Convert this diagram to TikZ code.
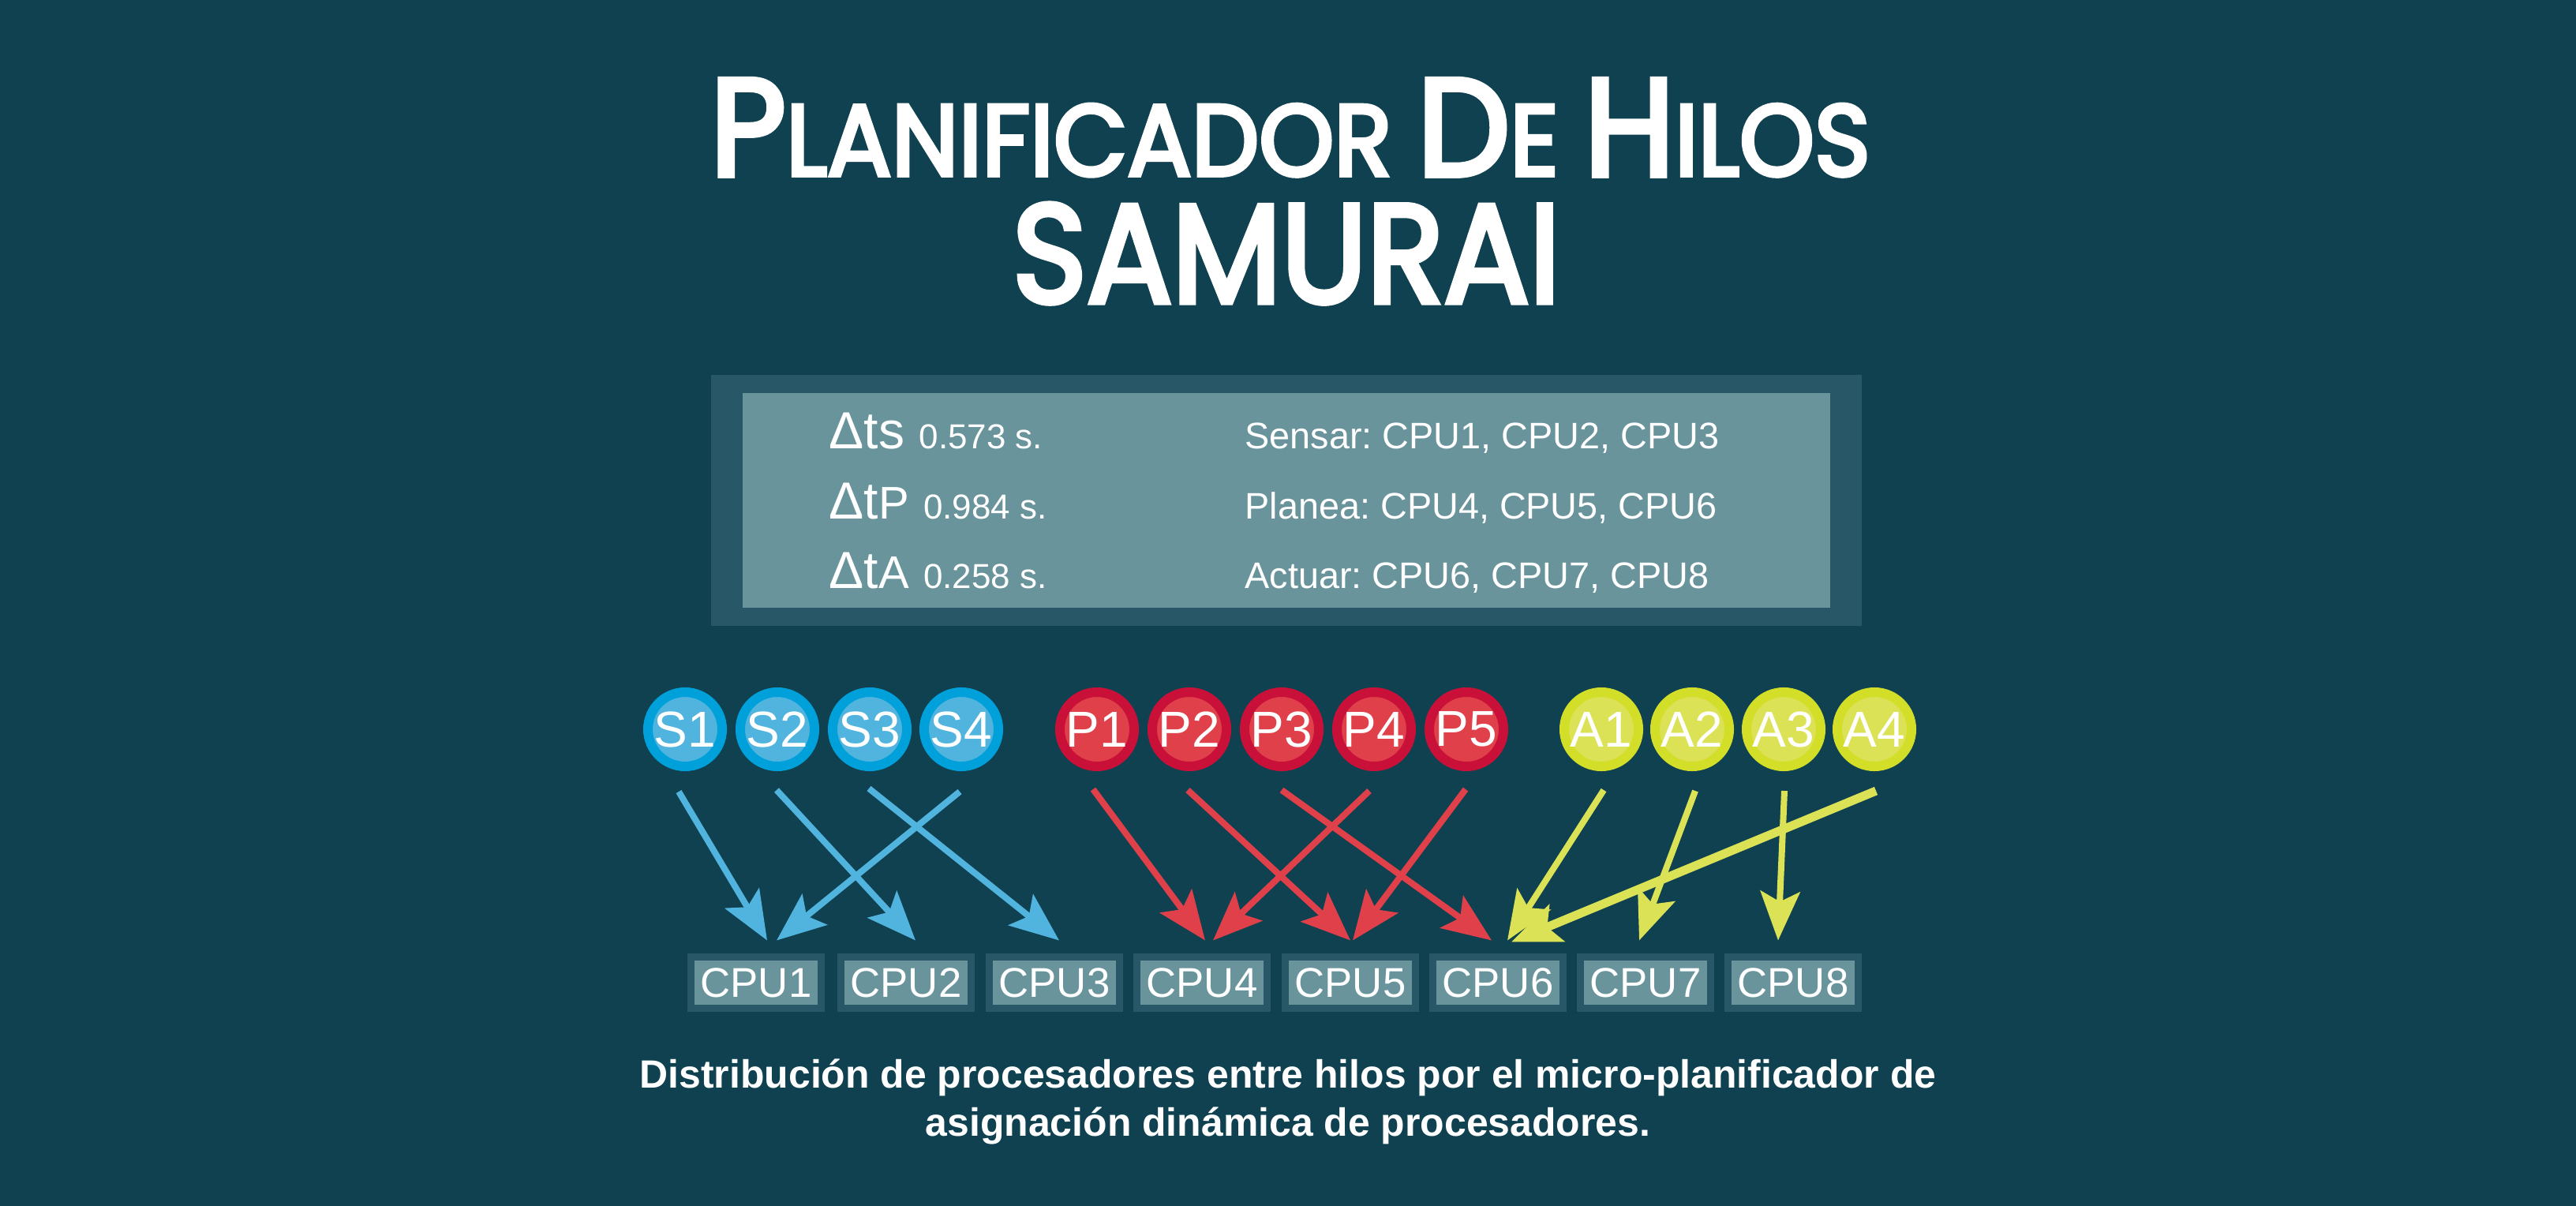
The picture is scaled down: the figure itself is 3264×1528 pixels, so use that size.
\documentclass[tikz,border=0pt]{standalone}
\usepackage{fontspec}
\setmainfont{Liberation Sans}
\newfontfamily\titulofont{Poppins}[FakeBold=4]
\usetikzlibrary{arrows.meta,calc}
\frenchspacing

% colores
\definecolor{fondo}{RGB}{15,65,80}
\definecolor{marco}{RGB}{40,88,104}
\definecolor{panel}{RGB}{106,148,156}
\definecolor{azulA}{RGB}{0,160,218}
\definecolor{azulB}{RGB}{80,180,222}
\definecolor{rojoA}{RGB}{200,16,56}
\definecolor{rojoB}{RGB}{224,64,74}
\definecolor{amaA}{RGB}{210,222,40}
\definecolor{amaB}{RGB}{220,226,86}

\newcommand{\grande}{\fontsize{50}{50}\selectfont}
\newcommand{\chica}{\fontsize{36.5}{40}\selectfont}
\newcommand{\deltat}{\fontsize{18.8}{20}\selectfont}
\newcommand{\tiempo}{\fontsize{12.5}{14}\selectfont}

\begin{document}
\begin{tikzpicture}[
        x=0.01cm, y=-0.01cm,
        hilo/.style={circle, line width=0.12cm, minimum size=0.94cm, inner sep=0pt, text=white, font=\fontsize{18.2}{20}\selectfont}, % hilos
        hiloS/.style={hilo, draw=azulA, fill=azulB},
        hiloP/.style={hilo, draw=rojoA, fill=rojoB},
        hiloA/.style={hilo, draw=amaA, fill=amaB},
        cpu/.style={rectangle, draw=marco, fill=panel, line width=0.09cm, minimum width=1.64cm, minimum height=0.64cm, inner sep=0pt, text=white, font=\fontsize{15}{17}\selectfont}, % procesadores
        flecha/.style={draw=#1, line width=0.08cm, -{Stealth[length=0.62cm, width=0.5cm, inset=0.13cm]}},
        texto/.style={anchor=base west, inner sep=0pt, text=white}
    ]
    % fondo
    \fill[fondo] (0,0) rectangle (3264,1528);

    % titulo
    \node[anchor=south, inner sep=0pt, text=white, font=\titulofont] (tit1) at (1635,224)
        {\resizebox{14.69cm}{1.22cm}{\grande P\chica LANIFICADOR \grande D\chica E \grande H\chica ILOS}};
    \node[anchor=south, inner sep=0pt, text=white, font=\titulofont] (tit2) at (1630,385)
        {\resizebox{6.94cm}{1.25cm}{\grande SAMURAI}};

    % tabla de tiempos
    \fill[marco] (901,475) rectangle (2359,793);
    \fill[panel] (941,498) rectangle (2319,770);
    \node[texto, font=\deltat] (ts) at (1050,569) {Δts {\tiempo 0.573 s.}};
    \node[texto, font=\deltat] (tp) at (1050,657) {Δt{\fontsize{16.5}{18}\selectfont P} {\tiempo 0.984 s.}};
    \node[texto, font=\deltat] (ta) at (1050,745) {Δt{\fontsize{16.5}{18}\selectfont A} {\tiempo 0.258 s.}};
    \node[texto, font=\fontsize{13.3}{15}\selectfont] (sensar) at (1577,569) {Sensar: CPU1, CPU2, CPU3};
    \node[texto, font=\fontsize{13.3}{15}\selectfont] (planea) at (1577,657) {Planea: CPU4, CPU5, CPU6};
    \node[texto, font=\fontsize{13.3}{15}\selectfont] (actuar) at (1577,745) {Actuar: CPU6, CPU7, CPU8};

    % hilos
    \node[hiloS] (S1) at (868,924) {S1};
    \node[hiloS] (S2) at (985,924) {S2};
    \node[hiloS] (S3) at (1102,924) {S3};
    \node[hiloS] (S4) at (1218,924) {S4};
    \node[hiloP] (P1) at (1390,924) {P1};
    \node[hiloP] (P2) at (1507,924) {P2};
    \node[hiloP] (P3) at (1624,924) {P3};
    \node[hiloP] (P4) at (1741,924) {P4};
    \node[hiloP] (P5) at (1858,924) {P5};
    \node[hiloA] (A1) at (2029,924) {A1};
    \node[hiloA] (A2) at (2144,924) {A2};
    \node[hiloA] (A3) at (2260,924) {A3};
    \node[hiloA] (A4) at (2375,924) {A4};

    % procesadores
    \node[cpu] (CPU1) at (958,1245) {CPU1};
    \node[cpu] (CPU2) at (1148,1245) {CPU2};
    \node[cpu] (CPU3) at (1336,1245) {CPU3};
    \node[cpu] (CPU4) at (1523,1245) {CPU4};
    \node[cpu] (CPU5) at (1711,1245) {CPU5};
    \node[cpu] (CPU6) at (1898,1245) {CPU6};
    \node[cpu] (CPU7) at (2085,1245) {CPU7};
    \node[cpu] (CPU8) at (2272,1245) {CPU8};

    % asignacion
    \draw[flecha=azulB] ($(S1.south)+(-8,26)$) -- ($(CPU1.north)+(14,-17)$);
    \draw[flecha=azulB] ($(S2.south)+(-1,24)$) -- ($(CPU2.north)+(12,-17)$);
    \draw[flecha=azulB] ($(S3.south)+(-1,22)$) -- ($(CPU3.north)+(6,-17)$);
    \draw[flecha=azulB] ($(S4.south)+(-2,26)$) -- ($(CPU1.north)+(26,-17)$);
    \draw[flecha=rojoB] ($(P1.south)+(-5,23)$) -- ($(CPU4.north)+(4,-17)$);
    \draw[flecha=rojoB] ($(P2.south)+(-2,24)$) -- ($(CPU5.north)+(0,-17)$);
    \draw[flecha=rojoB] ($(P3.south)+(0,24)$) -- ($(CPU6.north)+(-8,-17)$);
    \draw[flecha=rojoB] ($(P4.south)+(-6,25)$) -- ($(CPU4.north)+(14,-17)$);
    \draw[flecha=rojoB] ($(P5.south)+(-1,23)$) -- ($(CPU5.north)+(3,-17)$);
    \draw[flecha=amaB] ($(A1.south)+(3,24)$) -- ($(CPU6.north)+(12,-17)$);
    \draw[flecha=amaB] ($(A2.south)+(4,25)$) -- ($(CPU7.north)+(-8,-17)$);
    \draw[flecha=amaB] ($(A3.south)+(1,25)$) -- ($(CPU8.north)+(-19,-17)$);
    \draw[flecha=amaB, line width=0.11cm] ($(A4.south)+(2,25)$) -- ($(CPU6.north)+(17,-15)$);

    % pie
    \node[anchor=base, inner sep=0pt, text=white, font=\bfseries\fontsize{14.2}{17}\selectfont] (pie1) at (1632,1378)
        {Distribución de procesadores entre hilos por el micro-planificador de};
    \node[anchor=base, inner sep=0pt, text=white, font=\bfseries\fontsize{14.2}{17}\selectfont] (pie2) at (1632,1439)
        {asignación dinámica de procesadores.};
\end{tikzpicture}
\end{document}
